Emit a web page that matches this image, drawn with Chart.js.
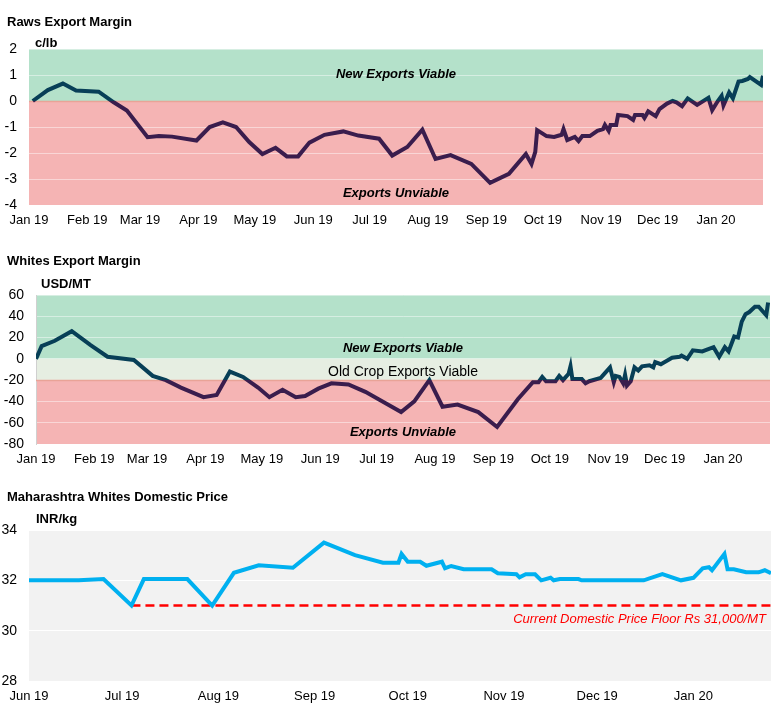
<!DOCTYPE html>
<html>
<head>
<meta charset="utf-8">
<title>Export margins and domestic price</title>
<script src="https://cdn.jsdelivr.net/npm/chart.js@4.4.1/dist/chart.umd.min.js"></script>
<style>
  body { margin: 0; background: #fff; }
  canvas { position: absolute; left: 0; }
</style>
</head>
<body>
<canvas id="raws" width="776" height="240" style="top:0"></canvas>
<canvas id="whites" width="776" height="240" style="top:240px"></canvas>
<canvas id="domestic" width="776" height="235" style="top:480px"></canvas>
<script>
/* global Chart */

// x values are days counted from 1 Jan 2019
const monthDays = [0, 31, 59, 90, 120, 151, 181, 212, 243, 273, 304, 334, 365];
const monthLabels = ['Jan 19', 'Feb 19', 'Mar 19', 'Apr 19', 'May 19', 'Jun 19', 'Jul 19',
  'Aug 19', 'Sep 19', 'Oct 19', 'Nov 19', 'Dec 19', 'Jan 20'];

// Raws export margin, c/lb
const rawsTicks = [-4, -3, -2, -1, 0, 1, 2];
const rawsDays = [2, 10, 18, 25, 37, 45, 52, 63, 69, 76, 89, 96, 103, 110, 117, 124, 131, 137, 143, 149,
  157, 167, 175, 186, 193, 201, 209, 216, 224, 235, 245, 255, 264, 267, 269, 270, 275, 279, 283, 284,
  286, 290, 292, 294, 298, 302, 305, 306, 308, 309, 312, 313, 318, 321, 322, 326, 327, 329, 333, 335,
  339, 342, 344, 347, 350, 355, 361, 363, 366, 368, 369, 372, 374, 377, 379, 382, 383, 389, 390];
const rawsMargin = [0.0, 0.42, 0.67, 0.4, 0.36, -0.05, -0.37, -1.39, -1.35, -1.37, -1.52, -1.0, -0.82, -1.0, -1.58, -2.04, -1.8, -2.13, -2.13, -1.6,
  -1.3, -1.17, -1.33, -1.45, -2.1, -1.77, -1.1, -2.23, -2.08, -2.42, -3.15, -2.8, -2.04, -2.42, -1.96, -1.12, -1.35, -1.38, -1.3, -1.08,
  -1.5, -1.38, -1.54, -1.35, -1.35, -1.15, -1.08, -0.92, -1.15, -0.92, -0.92, -0.54, -0.58, -0.73, -0.54, -0.54, -0.65, -0.4, -0.58, -0.31,
  -0.1, 0.0, -0.05, -0.2, 0.1, -0.15, 0.12, -0.35, 0.0, 0.2, -0.17, 0.33, 0.1, 0.75, 0.77, 0.85, 0.92, 0.62, 0.97];

// Whites export margin, USD/MT
const whitesTicks = [-80, -60, -40, -20, 0, 20, 40, 60];
const whitesDays = [0, 3, 10, 19, 29, 38, 52, 62, 69, 77, 89, 96, 103, 110, 118, 124, 131, 138, 143, 150,
  157, 166, 175, 186, 194, 201, 209, 216, 224, 235, 245, 256, 264, 267, 269, 271, 276, 278, 280, 283,
  284, 285, 290, 292, 294, 300, 301, 305, 307, 308, 310, 312, 313, 314, 316, 318, 320, 322, 326, 328,
  329, 332, 335, 338, 342, 343, 346, 349, 354, 360, 363, 366, 368, 371, 373, 375, 377, 379, 382, 384, 388, 389];
const whitesMargin = [0, 12, 17, 26, 13, 2, -1, -16, -20, -27, -36, -34, -12, -17, -27, -36, -29, -36, -35, -28,
  -23, -24, -31, -42, -50, -40, -20, -45, -43, -50, -64, -38, -22, -22, -17, -21, -21, -16, -20, -14,
  -7, -19, -19, -23, -21, -18, -16, -8, -22, -16, -17, -23, -15, -25, -21, -8, -11, -7, -6, -8,
  -3, -5, -2, 1, 2, 3, 0, 8, 7, 11, 2, 11, 7, 21, 20, 35, 42, 44, 49, 49, 41, 53];

// Maharashtra whites domestic price, INR/kg
const priceTicks = [28, 30, 32, 34];
const priceDays = [151, 167, 175, 184, 188, 202, 210, 217, 225, 236, 246, 256, 265, 270, 271, 273, 277, 279, 284, 285,
  287, 291, 300, 302, 308, 309, 311, 314, 316, 319, 320, 322, 328, 329, 349, 355, 361, 365, 368, 370,
  371, 375, 376, 378, 382, 386, 388, 390];
const domesticPrice = [32.0, 32.0, 32.05, 31.0, 32.05, 32.05, 31.0, 32.3, 32.6, 32.5, 33.5, 33.0, 32.7, 32.7, 33.05, 32.74, 32.74, 32.58, 32.74, 32.48,
  32.57, 32.44, 32.44, 32.28, 32.24, 32.12, 32.24, 32.24, 32.0, 32.1, 32.0, 32.05, 32.05, 32.0, 32.0, 32.25, 32.0, 32.1, 32.48, 32.52,
  32.4, 33.05, 32.44, 32.44, 32.32, 32.32, 32.4, 32.28];
const floorDays = [184, 390];
const floorPrice = [31, 31];

const FONT = "'Liberation Sans', Arial, sans-serif";
const TEAL = '#073f57';
const PURPLE = '#3a1d4d';
const GREEN = '#b4e1ca';
const PINK = '#f5b4b4';
const PALE = '#e6eee2';

Chart.defaults.font.family = FONT;
Chart.defaults.font.size = 13;
Chart.defaults.color = '#000';

const points = (xs, ys) => xs.map((x, i) => ({ x: x, y: ys[i] }));

// line colour changes where it crosses a given level
function splitColor(level, above, below) {
  return (ctx) => {
    const chart = ctx.chart;
    const area = chart.chartArea;
    if (!area) return above;
    const y = chart.scales.y.getPixelForValue(level);
    const t = Math.min(1, Math.max(0, (y - area.top) / (area.bottom - area.top)));
    const g = chart.ctx.createLinearGradient(0, area.top, 0, area.bottom);
    g.addColorStop(0, above);
    g.addColorStop(t, above);
    g.addColorStop(t, below);
    g.addColorStop(1, below);
    return g;
  };
}

// coloured background zones behind the grid
const bands = {
  id: 'bands',
  beforeDraw(chart, args, opts) {
    const { ctx, chartArea: a, scales: { y } } = chart;
    ctx.save();
    (opts.fills || []).forEach((b) => {
      const top = y.getPixelForValue(b.to);
      const bottom = y.getPixelForValue(b.from);
      ctx.fillStyle = b.color;
      ctx.fillRect(a.left, top, a.right - a.left, bottom - top);
    });
    ctx.restore();
  },
  beforeDatasetsDraw(chart, args, opts) {
    const { ctx, chartArea: a, scales: { y } } = chart;
    ctx.save();
    (opts.edges || []).forEach((v) => {
      const py = Math.round(y.getPixelForValue(v)) + 0.5;
      ctx.strokeStyle = '#e9a397';
      ctx.lineWidth = 1.5;
      ctx.beginPath();
      ctx.moveTo(a.left, py);
      ctx.lineTo(a.right, py);
      ctx.stroke();
    });
    ctx.restore();
  }
};

// titles, units and zone labels
const notes = {
  id: 'notes',
  afterDraw(chart, args, opts) {
    const { ctx, chartArea: a } = chart;
    ctx.save();
    ctx.textBaseline = 'alphabetic';
    (opts.items || []).forEach((n) => {
      ctx.font = n.font;
      ctx.fillStyle = n.color || '#000';
      ctx.textAlign = n.align || 'left';
      const x = n.x === 'center' ? (a.left + a.right) / 2 : n.x;
      ctx.fillText(n.text, x, n.y);
    });
    ctx.restore();
  }
};

function xScale(min, max, height) {
  return {
    type: 'linear',
    min: min,
    max: max,
    afterBuildTicks: (s) => { s.ticks = monthDays.filter((d) => d >= min && d <= max).map((v) => ({ value: v })); },
    afterFit: (s) => { s.height = height; },
    grid: { display: false, drawTicks: false },
    border: { display: false },
    ticks: {
      autoSkip: false,
      maxRotation: 0,
      padding: 8,
      callback: (v) => monthLabels[monthDays.indexOf(v)]
    }
  };
}

function yScale(ticks, width, gridColor, border) {
  return {
    min: ticks[0],
    max: ticks[ticks.length - 1],
    afterBuildTicks: (s) => { s.ticks = ticks.map((v) => ({ value: v })); },
    afterFit: (s) => { s.width = width; },
    grid: { color: gridColor, drawTicks: false },
    border: border || { display: false },
    ticks: { padding: 12, font: { size: 14 } }
  };
}

const TITLE = 'bold 13px ' + FONT;
const ZONE = 'bold italic 13px ' + FONT;

// eslint-disable-next-line no-unused-vars
const rawsChart = new Chart(document.getElementById('raws'), {
  type: 'line',
  data: {
    datasets: [{
      data: points(rawsDays, rawsMargin),
      borderColor: splitColor(0, TEAL, PURPLE),
      borderWidth: 4,
      pointRadius: 0,
      tension: 0
    }]
  },
  options: {
    responsive: false,
    animation: false,
    layout: { padding: { top: 49, right: 13, left: 0, bottom: 0 } },
    plugins: {
      legend: { display: false },
      tooltip: { enabled: false },
      bands: {
        fills: [{ from: 0, to: 2, color: GREEN }, { from: -4, to: 0, color: PINK }],
        edges: [0]
      },
      notes: {
        items: [
          { text: 'Raws Export Margin', x: 7, y: 26, font: TITLE },
          { text: 'c/lb', x: 35, y: 47, font: TITLE },
          { text: 'New Exports Viable', x: 'center', y: 78, font: ZONE, align: 'center' },
          { text: 'Exports Unviable', x: 'center', y: 197, font: ZONE, align: 'center' }
        ]
      }
    },
    scales: {
      x: xScale(0, 390, 35),
      y: yScale(rawsTicks, 29, 'rgba(255,255,255,0.45)')
    }
  },
  plugins: [bands, notes]
});

// eslint-disable-next-line no-unused-vars
const whitesChart = new Chart(document.getElementById('whites'), {
  type: 'line',
  data: {
    datasets: [{
      data: points(whitesDays, whitesMargin),
      borderColor: splitColor(-20, TEAL, PURPLE),
      borderWidth: 4,
      pointRadius: 0,
      tension: 0
    }]
  },
  options: {
    responsive: false,
    animation: false,
    layout: { padding: { top: 55, right: 6, left: 0, bottom: 0 } },
    plugins: {
      legend: { display: false },
      tooltip: { enabled: false },
      bands: {
        fills: [
          { from: 0, to: 60, color: GREEN },
          { from: -20, to: 0, color: PALE },
          { from: -80, to: -20, color: PINK }
        ],
        edges: [-20]
      },
      notes: {
        items: [
          { text: 'Whites Export Margin', x: 7, y: 25, font: TITLE },
          { text: 'USD/MT', x: 41, y: 48, font: TITLE },
          { text: 'New Exports Viable', x: 'center', y: 112, font: ZONE, align: 'center' },
          { text: 'Old Crop Exports Viable', x: 'center', y: 136, font: '14px ' + FONT, align: 'center' },
          { text: 'Exports Unviable', x: 'center', y: 196, font: ZONE, align: 'center' }
        ]
      }
    },
    scales: {
      x: xScale(0, 390, 36),
      y: yScale(whitesTicks, 36, 'rgba(255,255,255,0.45)', { color: '#d0d0d0', width: 1 })
    }
  },
  plugins: [bands, notes]
});

// eslint-disable-next-line no-unused-vars
const domesticChart = new Chart(document.getElementById('domestic'), {
  type: 'line',
  data: {
    datasets: [{
      data: points(priceDays, domesticPrice),
      borderColor: '#00b0f0',
      borderWidth: 4,
      pointRadius: 0,
      tension: 0
    }, {
      data: points(floorDays, floorPrice),
      borderColor: '#ff0000',
      borderWidth: 2.5,
      borderDash: [9, 5],
      pointRadius: 0
    }]
  },
  options: {
    responsive: false,
    animation: false,
    layout: { padding: { top: 50, right: 5, left: 0, bottom: 0 } },
    plugins: {
      legend: { display: false },
      tooltip: { enabled: false },
      bands: { fills: [{ from: 28, to: 34, color: '#f2f2f2' }] },
      notes: {
        items: [
          { text: 'Maharashtra Whites Domestic Price', x: 7, y: 21, font: TITLE },
          { text: 'INR/kg', x: 36, y: 43, font: TITLE },
          { text: 'Current Domestic Price Floor Rs 31,000/MT', x: 766, y: 143, font: 'italic 13px ' + FONT, color: '#ff0000', align: 'right' }
        ]
      }
    },
    scales: {
      x: xScale(151, 390, 34),
      y: yScale(priceTicks, 29, '#ffffff')
    }
  },
  plugins: [bands, notes]
});
</script>
</body>
</html>
